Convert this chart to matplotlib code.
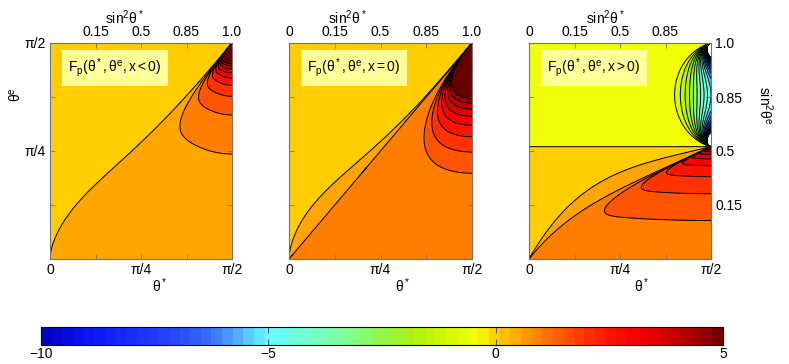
import numpy as np
import matplotlib
matplotlib.use('Agg')
import matplotlib.pyplot as plt
from matplotlib.colors import ListedColormap, Normalize
from matplotlib.cm import ScalarMappable

plt.rcParams['font.family'] = ['Liberation Sans', 'DejaVu Sans']
plt.rcParams['mathtext.fontset'] = 'custom'
plt.rcParams['mathtext.rm'] = 'Liberation Sans'
plt.rcParams['mathtext.it'] = 'Liberation Sans:italic'
plt.rcParams['mathtext.bf'] = 'Liberation Sans:bold'
plt.rcParams['font.size'] = 10
plt.rcParams['contour.negative_linestyle'] = 'solid'

# ---------------- data / labels ----------------
levels = np.arange(-10, 5.01, 0.5)
cbar_ticks = [-10, -5, 0, 5]
cbar_ticklabels = ['\u221210', '\u22125', '0', '5']
n_colors = 64
cmap_values = [-10, -9, -8, -7, -6.3, -5.7, -5, -4, -3.2, -2.5, -1.8, -1, -0.4,
               0, 0.5, 1, 1.5, 2, 2.5, 3, 3.5, 4, 4.5, 5]
cmap_rgb = [(0, 0, 190), (10, 20, 245), (25, 45, 255), (40, 75, 255), (55, 110, 255),
            (80, 170, 255), (100, 255, 255), (120, 255, 200), (130, 255, 140),
            (145, 245, 70), (175, 240, 15), (215, 250, 0), (245, 255, 10),
            (255, 205, 0), (255, 165, 0), (255, 125, 0), (255, 85, 0), (255, 50, 0),
            (255, 20, 0), (250, 0, 0), (225, 0, 0), (195, 0, 0), (155, 0, 0), (105, 0, 0)]

theta_ticks = [0, np.pi / 8, np.pi / 4, 3 * np.pi / 8, np.pi / 2]
theta_ticklabels = ['0', '', '\u03c0/4', '', '\u03c0/2']
ytheta_ticklabels = ['', '', '\u03c0/4', '', '\u03c0/2']
sin2_top_ticks = [[0.15, 0.5, 0.85, 1.0], [0, 0.15, 0.5, 0.85, 1.0], [0, 0.15, 0.5, 0.85]]
sin2_top_labels = [['0.15', '0.5', '0.85', '1.0'], ['0', '0.15', '0.5', '0.85', '1.0'],
                   ['0', '0.15', '0.5', '0.85']]
sin2_right_ticks = [0.15, 0.5, 0.85, 1.0]
sin2_right_labels = ['0.15', '0.5', '0.85', '1.0']
panel_titles = [r'$\mathregular{F_p(\theta^*,\theta^e,x<0)}$',
                r'$\mathregular{F_p(\theta^*,\theta^e,x=0)}$',
                r'$\mathregular{F_p(\theta^*,\theta^e,x>0)}$']

# field parameters (per panel)
p1_curve = [0.45, 0.5, 3.0]              # amplitude, powers of boundary bulge
p1_wedge = [1.0, 12, 1.0, 0.474, 0.418]  # sx, n, p, k, c0
p2_curve = [0.50, 0.5, 3.0]
p2_wedge = [1.0, 5, 1.0, 1.55, 0.497]
p3_vh = 0.52
p3_curveA = [0.38, 3]
p3_curveB = [0.74, 4]
p3_wedge = [0.2, 13, 0.0, 1.11, 0.848]
p3_upper = [0.57, 105.0, 1.0]            # strength, cut angle (deg), power

# ---------------- colours ----------------
rgb = np.array(cmap_rgb, float) / 255.0
centers = -10 + (np.arange(n_colors) + 0.5) * 15.0 / n_colors
cols64 = np.column_stack([np.interp(centers, cmap_values, rgb[:, j]) for j in range(3)])
cmap64 = ListedColormap(cols64)
band_cols = [tuple(np.interp(l, cmap_values, rgb[:, j]) for j in range(3)) for l in levels[:-1]]
band_cols.append(tuple(rgb[-1]))

# ---------------- fields ----------------
N = 800
uu = np.linspace(0, 1, N)
U, V = np.meshgrid(uu, uu)
X = 1 - U


def step(d, w=0.004):
    return 0.5 * (1 + np.tanh(d / w))


def wedge_term(X, Y, Yb, sx, n, p):
    with np.errstate(divide='ignore', invalid='ignore', over='ignore'):
        rho = np.hypot(sx * X, Y)
        phi = np.arctan2(sx * X, Y)
        phib = np.arctan2(sx * X, Yb)
        t = np.where(phib > 1e-12, phi / phib, np.where(Y > Yb, 0.0, 2.0))
        t = np.where(Y <= 0, 2.0, t)
        g = np.clip(1 - np.clip(t, 0, 5) ** n, 0, 1)
        q = g / np.maximum(rho, 1e-9)
        if p == 0:
            h = np.log(np.maximum(q, 1e-12))
        else:
            h = (q ** p - 1) / p
    return h


def bulge(U, a, p, q):
    return U + a * U ** p * (1 - U) ** q


# panel 1
b1 = bulge(U, *p1_curve)
sx, n, p, k, c0 = p1_wedge
F1 = 0.25 + 0.5 * step(b1 - V)
F1 = F1 + k * np.maximum(0, wedge_term(X, 1 - V, 1 - b1, sx, n, p) - c0)

# panel 2
b2 = bulge(U, *p2_curve)
bd = U
sx, n, p, k, c0 = p2_wedge
F2 = 0.25 + 0.5 * step(b2 - V) + 0.5 * step(bd - V)
F2 = F2 + k * np.maximum(0, wedge_term(X, 1 - V, 1 - bd, sx, n, p) - c0)

# panel 3
vh = p3_vh
yA = X * (p3_curveA[0] + (1 - p3_curveA[0]) * X ** p3_curveA[1])
yB = X * (p3_curveB[0] + (1 - p3_curveB[0]) * X ** p3_curveB[1])
aA = vh * (1 - yA)
aB = vh * (1 - yB)
sx, n, p, k, c0 = p3_wedge
F3low = 0.25 + 0.5 * step(aA - V) + 0.5 * step(aB - V)
F3low = F3low + k * np.maximum(0, wedge_term(X, vh - V, vh * yB, sx, n, p) - c0)
Xp = X * 182.0 / 216.0
with np.errstate(divide='ignore', invalid='ignore'):
    r1 = np.hypot(Xp, 1 - V)
    r2 = np.hypot(Xp, V - vh)
    cosang = (Xp ** 2 + (1 - V) * (vh - V)) / np.maximum(r1 * r2, 1e-12)
    ang = np.degrees(np.arccos(np.clip(cosang, -1, 1)))
    s = np.clip((ang - p3_upper[1]) / (180.0 - p3_upper[1]), 0, 1)
    F3up = -0.25 - p3_upper[0] * (1 / np.maximum(r1, 1e-6) + 1 / np.maximum(r2, 1e-6)) * s ** p3_upper[2]
F3 = np.where(V >= vh, F3up, F3low)

fields = [F1, F2, F3]

# ---------------- figure ----------------
W, H = 789, 364
fig = plt.figure(figsize=(W / 100, H / 100), dpi=100)
axes_px = [(50, 232), (289, 472), (529, 711)]
top_px, bot_px = 43, 259
toplabel_x = [0.41, 0.32, 0.42]
botlabel_x = [0.60, 0.62, 0.62]
spine_col = '0.45'

fwd = lambda x: np.sin(x) ** 2
inv = lambda y: np.arcsin(np.sqrt(np.clip(y, 0, 1)))

for i, (x0, x1) in enumerate(axes_px):
    ax = fig.add_axes([x0 / W, 1 - bot_px / H, (x1 - x0) / W, (bot_px - top_px) / H])
    T1, T2 = U * np.pi / 2, V * np.pi / 2
    Fm = np.clip(fields[i], -1e3, 1e3)
    ax.contourf(T1, T2, Fm, levels=levels, colors=band_cols, extend='max')
    ax.contour(T1, T2, Fm, levels=levels, colors='k', linewidths=0.7, linestyles='solid')
    ax.set_xlim(0, np.pi / 2)
    ax.set_ylim(0, np.pi / 2)
    ax.set_xticks(theta_ticks)
    ax.set_xticklabels(theta_ticklabels)
    ax.set_yticks(theta_ticks)
    if i == 0:
        ax.set_yticklabels(ytheta_ticklabels)
    else:
        ax.set_yticklabels([''] * 5)
    ax.tick_params(direction='in', length=3.5, width=0.6, color=spine_col,
                   top=True, right=True, labelsize=10, pad=3)
    for sp in ax.spines.values():
        sp.set_color(spine_col)
        sp.set_linewidth(0.8)

    sec = ax.secondary_xaxis('top', functions=(fwd, inv))
    sec.set_xticks(sin2_top_ticks[i])
    sec.set_xticklabels(sin2_top_labels[i])
    sec.tick_params(length=0, labelsize=10, pad=3)
    sec.spines['top'].set_visible(False)

    ax.text(toplabel_x[i], 1.115, r'$\mathregular{sin^2\theta^*}$', transform=ax.transAxes,
            ha='center', va='center', fontsize=10)
    ax.text(botlabel_x[i], -0.125, r'$\mathregular{\theta^*}$', transform=ax.transAxes,
            ha='center', va='center', fontsize=10)
    ax.text(0.355, 0.885, panel_titles[i], transform=ax.transAxes, ha='center', va='center',
            fontsize=10, bbox=dict(boxstyle='square,pad=0.45', fc=(1, 1, 0.6), ec='none'))

    if i == 0:
        ax.text(-0.19, 0.76, r'$\mathregular{\theta^e}$', transform=ax.transAxes,
                ha='center', va='center', rotation=90, fontsize=10)
    if i == 2:
        secy = ax.secondary_yaxis('right', functions=(fwd, inv))
        secy.set_yticks(sin2_right_ticks)
        secy.set_yticklabels(sin2_right_labels)
        secy.tick_params(length=0, labelsize=10, pad=3)
        secy.spines['right'].set_visible(False)
        ax.text(1.30, 0.71, r'$\mathregular{sin^2\theta^e}$', transform=ax.transAxes,
                ha='center', va='center', rotation=-90, fontsize=10)

# colorbar
cax = fig.add_axes([41 / W, 1 - 345 / H, (723 - 41) / W, 18 / H])
sm = ScalarMappable(norm=Normalize(-10, 5), cmap=cmap64)
cb = fig.colorbar(sm, cax=cax, orientation='horizontal')
cb.set_ticks(cbar_ticks)
cb.set_ticklabels(cbar_ticklabels)
cax.tick_params(direction='in', length=4, width=0.8, color='0.35', top=True, bottom=True,
                labelsize=10, pad=1.5)
cb.outline.set_linewidth(0.8)

fig.savefig('out.png', dpi=100)
